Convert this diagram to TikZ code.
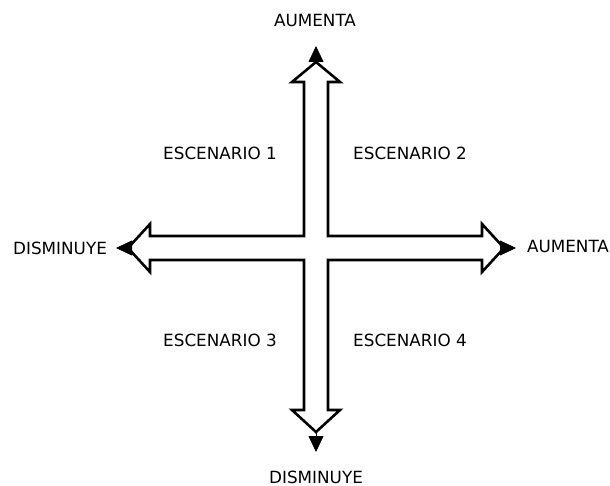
\documentclass[tikz,border=0pt]{standalone}
\usepackage{fontspec}
\setmainfont{DejaVu Sans}
\usetikzlibrary{arrows.meta}

\begin{document}
\begin{tikzpicture}
    [
      x=1pt, y=-1pt,
      axislabel/.style={font=\fontsize{16.8}{19}\selectfont, inner sep=0pt},
      blockarrow/.style={draw=black, line width=2.6pt, fill=white, line join=miter},
      tip/.style={-{Triangle[length=16pt,width=15pt]}, line width=0.8pt},
    ]

    \useasboundingbox (0,0) rectangle (610,486);

    % hollow cross of block arrows
    \draw [blockarrow]
      (304,236) -- (304,82) -- (292,82) -- (316,62) -- (340,82) -- (328,82)
      -- (328,236) -- (482,236) -- (482,224) -- (504,248) -- (482,272) -- (482,260)
      -- (328,260) -- (328,410) -- (340,410) -- (316,432) -- (292,410) -- (304,410)
      -- (304,260) -- (150,260) -- (150,272) -- (128,248) -- (150,224) -- (150,236)
      -- cycle;

    \coordinate (up-apex) at (316,63);
    \coordinate (up-end) at (316,46);
    \coordinate (right-apex) at (503,248);
    \coordinate (right-end) at (516,248);
    \coordinate (down-apex) at (316,431);
    \coordinate (down-end) at (316,452);
    \coordinate (left-apex) at (129,248);
    \coordinate (left-end) at (116,248);

    \draw [tip] (up-apex) -- (up-end);
    \draw [tip] (right-apex) -- (right-end);
    \draw [tip] (down-apex) -- (down-end);
    \draw [tip] (left-apex) -- (left-end);

    \node (y-high) [axislabel] at (315,20) {AUMENTA};
    \node (y-low) [axislabel] at (316,477) {DISMINUYE};
    \node (x-low) [axislabel] at (60,248) {DISMINUYE};
    \node (x-high) [axislabel] at (568,246) {AUMENTA};

    \node (sc-1) [axislabel] at (220,153) {ESCENARIO 1};
    \node (sc-2) [axislabel] at (410,153) {ESCENARIO 2};
    \node (sc-3) [axislabel] at (220,340) {ESCENARIO 3};
    \node (sc-4) [axislabel] at (410,340) {ESCENARIO 4};

  \end{tikzpicture}
\end{document}
